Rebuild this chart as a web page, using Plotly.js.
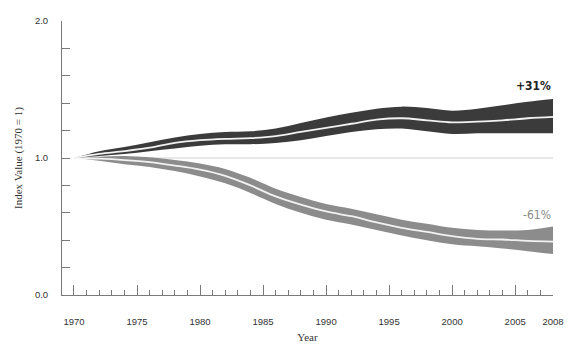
<!DOCTYPE html>
<html>
<head>
<meta charset="utf-8">
<script src="https://cdn.plot.ly/plotly-3.0.1.min.js"></script>
<style>html,body{margin:0;padding:0;background:#fff;}#chart{width:573px;height:345px;}</style>
</head>
<body>
<div id="chart"></div>
<script>
const years = [1970,1972,1974,1976,1978,1980,1982,1984,1986,1988,1990,1992,1994,1996,1998,2000,2002,2004,2006,2008];

const upperIndex = [1.00,1.03,1.05,1.075,1.11,1.13,1.14,1.145,1.16,1.19,1.22,1.25,1.28,1.29,1.275,1.26,1.265,1.275,1.29,1.30];
const upperHigh  = [1.00,1.05,1.08,1.115,1.15,1.175,1.19,1.195,1.215,1.255,1.295,1.33,1.36,1.375,1.365,1.345,1.36,1.385,1.41,1.43];
const upperLow   = [1.00,1.015,1.03,1.05,1.07,1.09,1.10,1.10,1.11,1.13,1.16,1.19,1.21,1.215,1.195,1.175,1.18,1.18,1.18,1.18];

const lowerIndex = [1.00,0.995,0.985,0.97,0.945,0.915,0.87,0.80,0.72,0.66,0.61,0.575,0.53,0.49,0.46,0.43,0.41,0.405,0.395,0.39];
const lowerHigh  = [1.00,1.01,1.015,1.005,0.985,0.96,0.92,0.855,0.775,0.715,0.665,0.63,0.59,0.55,0.52,0.49,0.475,0.47,0.475,0.50];
const lowerLow   = [1.00,0.98,0.955,0.935,0.905,0.865,0.815,0.745,0.665,0.60,0.55,0.515,0.475,0.435,0.40,0.37,0.355,0.34,0.32,0.30];

const xTickVals = [1970,1975,1980,1985,1990,1995,2000,2005,2008];
const xTickText = ['1970','1975','1980','1985','1990','1995','2000','2005','2008'];
const yTickVals = [0,1,2];
const yTickText = ['0.0','1.0','2.0'];
const upperLabel = '+31%';
const lowerLabel = '-61%';

const darkCol = '#3b3b3b';
const lightCol = '#8c8c8c';

function band(lo, hi, col){
  return [
    {x: years, y: lo, mode:'lines', line:{width:0, shape:'spline', smoothing:1, color:col}, hoverinfo:'skip', showlegend:false},
    {x: years, y: hi, mode:'lines', line:{width:0, shape:'spline', smoothing:1, color:col}, fill:'tonexty', fillcolor:col, hoverinfo:'skip', showlegend:false}
  ];
}
function mid(v){
  return {x: years, y: v, mode:'lines', line:{width:1.8, shape:'spline', smoothing:1, color:'#f2f2f2'}, hoverinfo:'skip', showlegend:false};
}

const data = [].concat(band(lowerLow, lowerHigh, lightCol), [mid(lowerIndex)], band(upperLow, upperHigh, darkCol), [mid(upperIndex)]);

const tickFont = {family:'Liberation Sans, Arial, sans-serif', size:9.5, color:'#333'};
const titleFont = {family:'Liberation Serif, Times New Roman, serif', size:11, color:'#333'};
const annFont = {family:'DejaVu Sans Condensed, Liberation Sans Narrow, DejaVu Sans, sans-serif', stretch:'condensed', size:12};

const layout = {
  width:573, height:345,
  margin:{l:62, r:20, t:21, b:50, pad:0},
  paper_bgcolor:'#fff', plot_bgcolor:'#fff',
  showlegend:false,
  xaxis:{
    range:[1969.05, 2008], showgrid:false, zeroline:false,
    showline:true, linecolor:'#7a7a7a', linewidth:1,
    tickmode:'array', tickvals:xTickVals, ticktext:xTickText,
    ticks:'inside', ticklen:10, tickcolor:'#7a7a7a', tickwidth:1,
    minor:{dtick:1, tick0:1970, ticks:'inside', ticklen:5, tickcolor:'#7a7a7a', showgrid:false},
    tickfont:tickFont, ticklabelstandoff:18,
    title:{text:'Year', font:titleFont, standoff:6}
  },
  yaxis:{
    range:[0,2], showgrid:false, zeroline:false,
    showline:true, linecolor:'#7a7a7a', linewidth:1,
    tickmode:'array', tickvals:yTickVals, ticktext:yTickText,
    ticks:'inside', ticklen:8, tickcolor:'#7a7a7a', tickwidth:1,
    minor:{dtick:0.2, tick0:0, ticks:'inside', ticklen:8, tickcolor:'#7a7a7a', showgrid:false},
    tickfont:tickFont, ticklabelstandoff:11,
    title:{text:'Index Value (1970 = 1)', font:titleFont, standoff:10}
  },
  shapes:[{type:'line', xref:'x', yref:'y', x0:1970, x1:2008, y0:1, y1:1, line:{color:'#d0d0d0', width:1}, layer:'below'}],
  annotations:[
    {x:2008, y:upperHigh[upperHigh.length-1], xref:'x', yref:'y', text:'<b>'+upperLabel+'</b>', showarrow:false, xanchor:'right', yanchor:'bottom', yshift:4,
     font:Object.assign({}, annFont, {color:'#222'})},
    {x:2008, y:lowerHigh[lowerHigh.length-1], xref:'x', yref:'y', text:lowerLabel, showarrow:false, xanchor:'right', yanchor:'bottom', yshift:3,
     font:Object.assign({}, annFont, {color:'#8a8a8a'})}
  ]
};

Plotly.newPlot('chart', data, layout, {displayModeBar:false, staticPlot:true});
</script>
</body>
</html>
